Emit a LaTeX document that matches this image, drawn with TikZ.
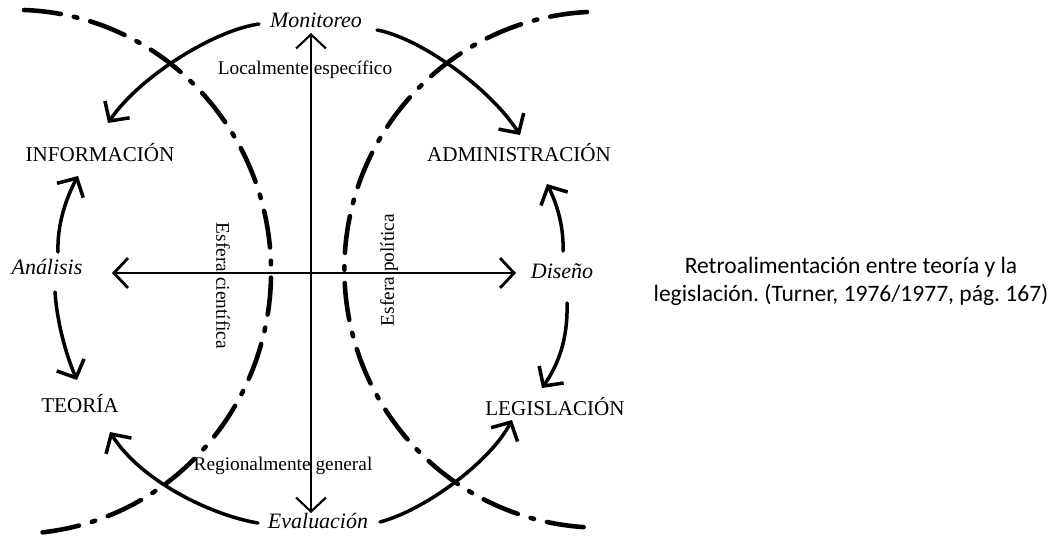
\documentclass[tikz,border=0pt]{standalone}
\usepackage{fontspec}
\setmainfont{Liberation Serif}
\newfontfamily\capfont{Carlito}
\usetikzlibrary{arrows.meta}
\frenchspacing
\begin{document}
\begin{tikzpicture}[x=0.02cm,y=-0.02cm, line cap=round, line join=round,
  txt/.style={font=\fontsize{11}{13}\selectfont, inner sep=1pt},
  itx/.style={font=\fontsize{12.5}{14}\selectfont\itshape, inner sep=1pt},
  capl/.style={font=\fontsize{12}{14}\selectfont, inner sep=1pt},
  note/.style={font=\capfont\fontsize{13.4}{16}\selectfont, align=center, inner sep=0pt},
  flow/.style={line width=2pt, -{Straight Barb[length=8pt,width=17pt]}},
  axisline/.style={{Straight Barb[length=8pt,width=17pt]}-{Straight Barb[length=8pt,width=17pt]}},
  sphere/.style={line width=2.6pt, dash pattern=on 21.1pt off 7.6pt on 2pt off 7.6pt}
]
\useasboundingbox (0,0) rectangle (1061,535);

% texts
\node[itx] (mon) at (316,20) {Monitoreo};
\node[txt] (loc) at (305,70) {Localmente específico};
\node[capl] (info) at (100,153) {INFORMACIÓN};
\node[capl] (adm) at (519,153) {ADMINISTRACIÓN};
\node[itx] (ana) at (47,267) {Análisis};
\node[itx] (dis) at (562,271) {Diseño};
\node[capl] (teo) at (80,404) {TEORÍA};
\node[capl] (leg) at (555,407) {LEGISLACIÓN};
\node[txt] (reg) at (283,466) {Regionalmente general};
\node[itx] (eva) at (318,521) {Evaluación};
\node[txt, rotate=-90] (cie) at (223,286) {Esfera científica};
\node[txt, rotate=90] (pol) at (389,270) {Esfera política};
\node[note] (cap) at (851,281) {Retroalimentación entre teoría y la\\legislación. (Turner, 1976/1977, pág. 167)};

% dashed spheres
\draw[sphere] (24,10) arc[start angle=-88, end angle=85, x radius=256, y radius=262];
\draw[sphere] (587,12) arc[start angle=267, end angle=93, x radius=256, y radius=258];

% axes
\coordinate (vT) at (311,33);
\coordinate (vB) at (311,513);
\coordinate (hL) at (112,273);
\coordinate (hR) at (516,273);
\draw[axisline, line width=1.2pt] (vB) -- (vT);
\draw[axisline, line width=1.6pt] (hL) -- (hR);

% feedback arrows
\coordinate (mL) at (259,24);
\coordinate (mR) at (377,30);
\coordinate (iIn) at (108,123);
\coordinate (aIn) at (520,135);
\coordinate (eL) at (258,523);
\coordinate (eR) at (380,522);
\coordinate (tIn) at (110,432);
\coordinate (lIn) at (512,420);
\coordinate (anU) at (58,252);
\coordinate (anD) at (55,292);
\coordinate (iIn2) at (78,176);
\coordinate (tIn2) at (77,380);
\coordinate (dU) at (563,251);
\coordinate (dD) at (567,303);
\coordinate (aIn2) at (547,184);
\coordinate (lIn2) at (542,388);

\draw[flow] (mL) .. controls (215,30) and (140,76) .. (iIn);
\draw[flow] (mR) .. controls (420,38) and (490,88) .. (aIn);
\draw[flow] (eL) .. controls (210,515) and (140,480) .. (tIn);
\draw[flow] (eR) .. controls (425,510) and (490,462) .. (lIn);
\draw[flow] (anU) .. controls (57,225) and (66,198) .. (iIn2);
\draw[flow] (anD) .. controls (57,322) and (66,355) .. (tIn2);
\draw[flow] (dU) .. controls (564,225) and (556,202) .. (aIn2);
\draw[flow] (dD) .. controls (568,340) and (558,365) .. (lIn2);
\end{tikzpicture}
\end{document}
